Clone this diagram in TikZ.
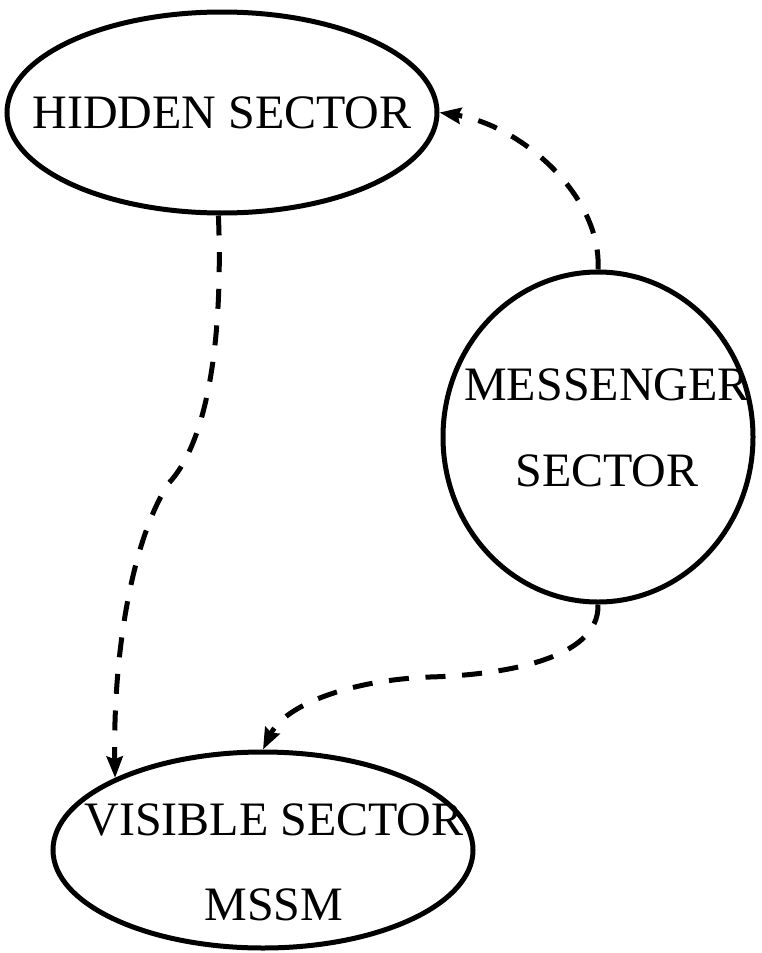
\documentclass[tikz,border=0pt]{standalone}
\usepackage{fontspec}
\setmainfont{Liberation Serif}
\usetikzlibrary{arrows.meta,shapes.geometric}
\begin{document}
\begin{tikzpicture}[x=0.75pt,y=-0.75pt,
  sector/.style={draw,line width=3.75pt,ellipse,inner sep=0pt},
  caption/.style={align=center,inner sep=0pt,font=\fontsize{36}{64}\selectfont},
  link/.style={line width=3.75pt,dash pattern=on 15pt off 12.5pt,
    -{Stealth[length=16pt,width=12pt,inset=2pt]}}]
\useasboundingbox (0,0) rectangle (761,953);
% sector outlines
\node[sector,minimum width=322.5pt,minimum height=150.75pt] (hid) at (222,112.5) {};
\node[sector,minimum width=232.5pt,minimum height=247.5pt] (mes) at (598,437) {};
\node[sector,minimum width=315pt,minimum height=147pt] (vis) at (263,850) {};
% sector names
\node[caption] (hidtxt) at (222,113) {HIDDEN SECTOR};
\node[caption] (mestxt) at (607,428) {MESSENGER\\SECTOR};
\node[caption] (vistxt) at (274,862) {VISIBLE SECTOR\\MSSM};
% hidden -> visible, with a kink half way
\draw[link] (hid.268) .. controls (223,330) and (210,440) .. (168,484)
  .. controls (130,545) and (113,660) .. (vis.154);
% messenger -> hidden
\draw[link] (mes.north) .. controls (602,195) and (520,125) .. (hid.east);
% messenger -> visible
\draw[link] (mes.south) .. controls (600,660) and (500,675) .. (430,677)
  .. controls (350,680) and (285,705) .. (vis.north);
\end{tikzpicture}
\end{document}
